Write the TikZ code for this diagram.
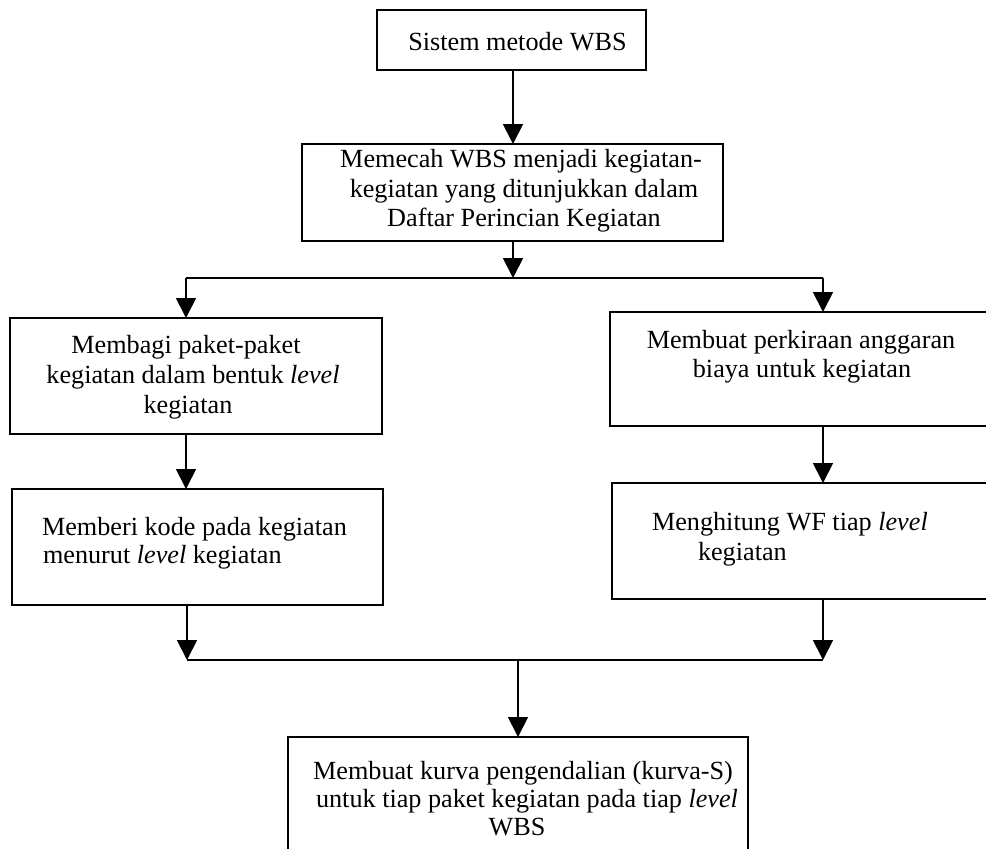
\documentclass[tikz,border=0pt]{standalone}
\usepackage{fontspec}
\setmainfont{Liberation Serif}
\usetikzlibrary{arrows.meta}
\begin{document}
\begin{tikzpicture}[x=1pt,y=-1pt,
  box/.style={draw=black,line width=1.8pt,rectangle,inner sep=0pt,outer sep=0pt},
  txt/.style={inner sep=0pt,outer sep=0pt,font=\fontsize{26.2}{30}\selectfont,anchor=base},
  txtl/.style={txt,anchor=base west},
  conn/.style={draw=black,line width=1.8pt},
  arr/.style={conn,-{Triangle[width=20pt,length=20pt]}}]
\useasboundingbox (0,0) rectangle (986,849);
% boxes
\node[box,minimum width=269pt,minimum height=60pt] (b1) at (511.5,40) {};
\node[box,minimum width=421pt,minimum height=97pt] (b2) at (512.5,192.5) {};
\node[box,minimum width=372pt,minimum height=116pt] (b3) at (196,376) {};
\node[box,minimum width=400pt,minimum height=114pt] (b4) at (810,369) {};
\node[box,minimum width=371pt,minimum height=116pt] (b5) at (197.5,547) {};
\node[box,minimum width=398pt,minimum height=116pt] (b6) at (811,541) {};
\node[box,minimum width=460pt,minimum height=143pt] (b7) at (518,808.5) {};
% texts
\node[txt] (t1) at (517.5,50) {Sistem metode WBS};
\node[txt] (t2a) at (521,167) {Memecah WBS menjadi kegiatan-};
\node[txt] (t2b) at (524,197) {kegiatan yang ditunjukkan dalam};
\node[txt] (t2c) at (524,226) {Daftar Perincian Kegiatan};
\node[txt] (t3a) at (186,353) {Membagi paket-paket};
\node[txt] (t3b) at (193,383) {kegiatan dalam bentuk \textit{level}};
\node[txt] (t3c) at (188,413) {kegiatan};
\node[txtl] (t5a) at (42,535) {Memberi kode pada kegiatan};
\node[txtl] (t5b) at (43,563) {menurut \textit{level} kegiatan};
\node[txt] (t4a) at (801,348) {Membuat perkiraan anggaran};
\node[txt] (t4b) at (802,377) {biaya untuk kegiatan};
\node[txtl] (t6a) at (652,530) {Menghitung WF tiap \textit{level}};
\node[txtl] (t6b) at (698,560) {kegiatan};
\node[txt] (t7a) at (523,779) {Membuat kurva pengendalian (kurva-S)};
\node[txt] (t7b) at (527,807) {untuk tiap paket kegiatan pada tiap \textit{level}};
\node[txt] (t7c) at (517,835) {WBS};
% junctions
\coordinate (j1) at (513,278);
\coordinate (jl) at (186,278);
\coordinate (jr) at (823,278);
\coordinate (k1) at (187,660);
\coordinate (k2) at (823,660);
\coordinate (km) at (518,660);
% connectors
\draw[arr] (j1 |- b1.south) -- (j1 |- b2.north);
\draw[arr] (j1 |- b2.south) -- (j1);
\draw[conn] (jl) -- (jr);
\draw[arr] (jl) -- (jl |- b3.north);
\draw[arr] (jr) -- (jr |- b4.north);
\draw[arr] (jl |- b3.south) -- (jl |- b5.north);
\draw[arr] (jr |- b4.south) -- (jr |- b6.north);
\draw[arr] (k1 |- b5.south) -- (k1);
\draw[arr] (k2 |- b6.south) -- (k2);
\draw[conn] (k1) -- (k2);
\draw[arr] (km) -- (km |- b7.north);
\end{tikzpicture}
\end{document}
